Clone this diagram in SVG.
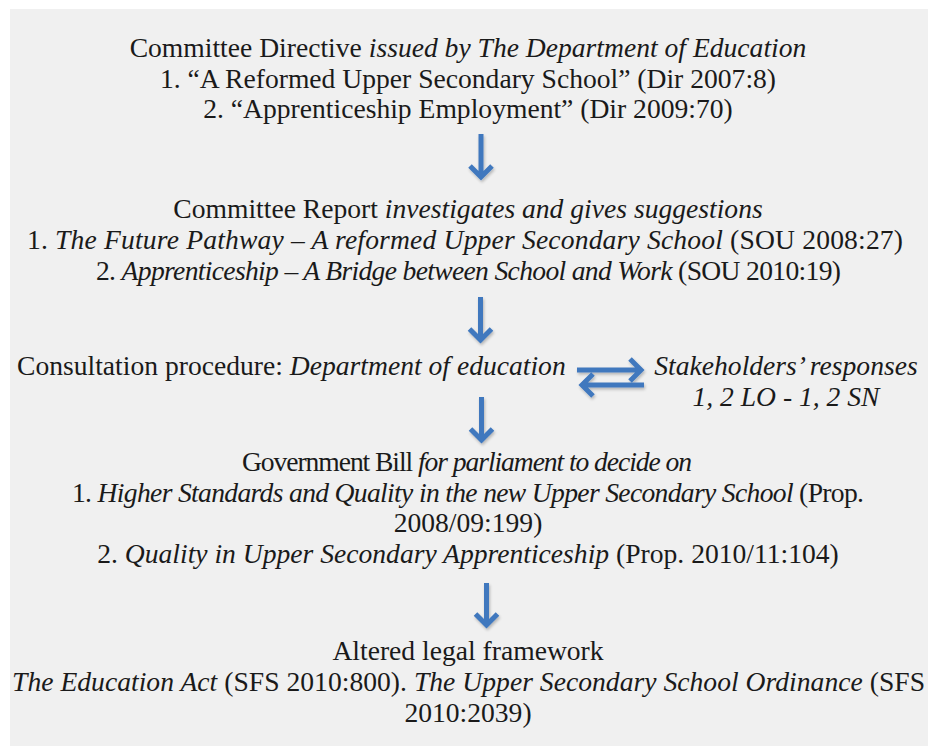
<svg xmlns="http://www.w3.org/2000/svg" width="928" height="746" viewBox="0 0 928 746">
<defs>
<style>
.t{font-family:'Liberation Serif','Times New Roman',Times,serif;font-size:27.6px;fill:#1a1a1a}
.c{text-anchor:middle}
.i{font-style:italic}
.arr{fill:none;stroke:#4178be;stroke-width:5;stroke-linecap:butt;stroke-linejoin:miter}
</style>
<filter id="sh" x="-50%" y="-50%" width="200%" height="200%"><feGaussianBlur in="SourceAlpha" stdDeviation="1.5"/><feOffset dx="1" dy="2"/><feComponentTransfer><feFuncA type="linear" slope="0.25"/></feComponentTransfer><feMerge><feMergeNode/><feMergeNode in="SourceGraphic"/></feMerge></filter>
</defs>
<rect x="10" y="9" width="918" height="737" fill="#f0f0f0"/>
<g class="t" font-family="Liberation Serif, serif">
<g id="directive">
<text class="c" x="468" y="57">Committee Directive <tspan class="i">issued by The Department of Education</tspan></text>
<text class="c" x="468" y="88">1. “A Reformed Upper Secondary School” (Dir 2007:8)</text>
<text class="c" x="468" y="118">2. “Apprenticeship Employment” (Dir 2009:70)</text>
</g>
<g id="report">
<text class="c" x="468" y="218">Committee Report <tspan class="i">investigates and gives suggestions</tspan></text>
<text class="c" x="465" y="249" textLength="876" lengthAdjust="spacing">1. <tspan class="i">The Future Pathway – A reformed Upper Secondary School</tspan> (SOU 2008:27)</text>
<text class="c" x="468.5" y="280" textLength="745" lengthAdjust="spacing">2. <tspan class="i">Apprenticeship – A Bridge between School and Work</tspan> (SOU 2010:19)</text>
</g>
<g id="consultation">
<text x="17" y="375">Consultation procedure: <tspan class="i">Department of education</tspan></text>
</g>
<g id="stakeholders">
<text class="c i" x="786" y="375">Stakeholders’ responses</text>
<text class="c i" x="786" y="406">1, 2 LO - 1, 2 SN</text>
</g>
<g id="bill">
<text class="c" x="467" y="471" textLength="450" lengthAdjust="spacing">Government Bill <tspan class="i">for parliament to decide on</tspan></text>
<text class="c" x="468" y="502" textLength="792" lengthAdjust="spacing">1. <tspan class="i">Higher Standards and Quality in the new Upper Secondary School</tspan> (Prop.</text>
<text class="c" x="468" y="532">2008/09:199)</text>
<text class="c" x="468" y="563">2. <tspan class="i">Quality in Upper Secondary Apprenticeship</tspan> (Prop. 2010/11:104)</text>
</g>
<g id="framework">
<text class="c" x="468" y="660">Altered legal framework</text>
<text class="c" x="468.5" y="691" textLength="913" lengthAdjust="spacing"><tspan class="i">The Education Act</tspan> (SFS 2010:800). <tspan class="i">The Upper Secondary School Ordinance</tspan> (SFS</text>
<text class="c" x="468" y="722">2010:2039)</text>
</g>
</g>
<g id="connectors" filter="url(#sh)">
<path class="arr" d="M481 134V177M470 166L481 177L492 166"/>
<path class="arr" d="M480.5 297V340M469.5 329L480.5 340L491.5 329"/>
<path class="arr" d="M481.5 397V440M470.5 429L481.5 440L492.5 429"/>
<path class="arr" d="M486.5 583V625M475.5 614L486.5 625L497.5 614"/>
<path class="arr" d="M577 370H641M630 359L641 370L630 381"/>
<path class="arr" d="M644 385H582M593 374L582 385L593 396"/>
</g>
</svg>
